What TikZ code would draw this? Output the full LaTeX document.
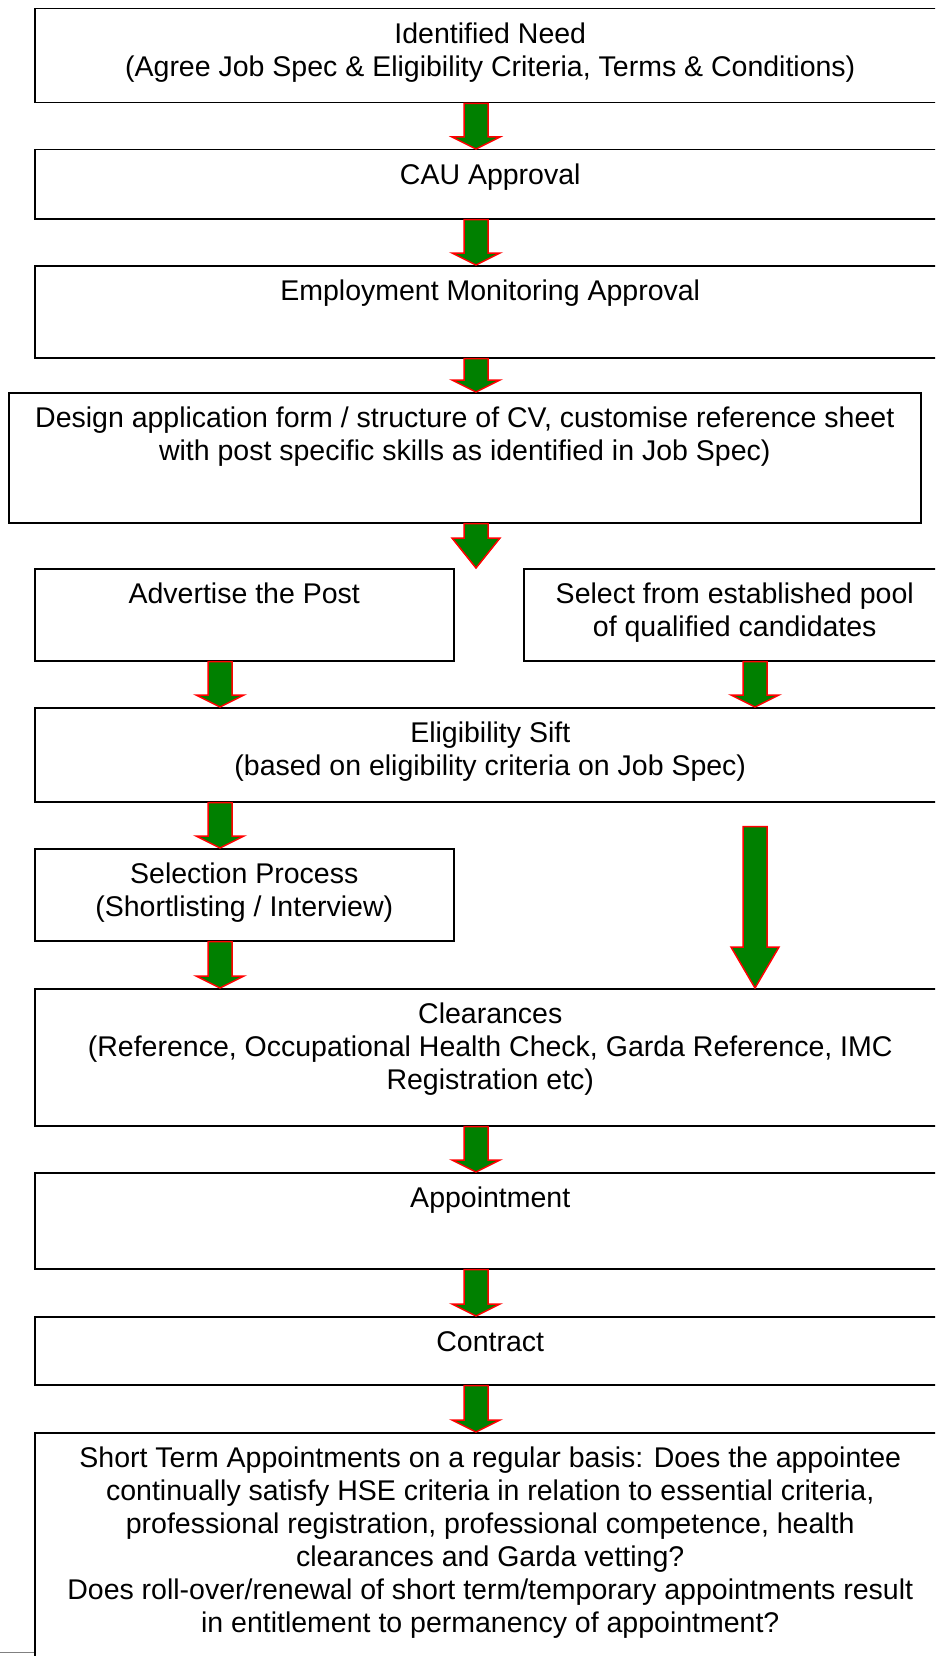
\documentclass[tikz,border=0pt]{standalone}
\usepackage{fontspec}
\setmainfont{Liberation Sans}
\usetikzlibrary{calc}

\definecolor{flowgreen}{RGB}{0,128,0}
\definecolor{flowred}{RGB}{255,0,0}

\tikzset{
  box/.style={draw, line width=1.5pt, anchor=north west, inner sep=0pt,
    minimum width=911pt, minimum height=#1},
  half/.style={box=#1, minimum width=419pt},
  caption/.style={anchor=north, align=center, inner sep=0pt, yshift=-15pt,
    font=\fontsize{28.5}{33}\selectfont},
  flow/.style={fill=flowgreen, draw=flowred, line width=1.5pt},
}

% block arrow: [head length] {from} {to}
\newcommand\blockarrow[3][12]{%
  \draw [flow] let \p1=(#2), \p2=(#3) in
    (\x1-12pt,\y1) -- (\x1+12pt,\y1) -- (\x1+12pt,\y2+#1pt) -- (\x1+24pt,\y2+#1pt)
    -- (\x1,\y2) -- (\x1-24pt,\y2+#1pt) -- (\x1-12pt,\y2+#1pt) -- cycle;}

\begin{document}
\begin{tikzpicture}[x=1pt,y=-1pt]
  \useasboundingbox (0,0) rectangle (935,1656);
  \clip (0,0) rectangle (935,1656);

  \coordinate (spine)  at (476,0);
  \coordinate (lspine) at (220,0);
  \coordinate (rspine) at (755,0);

  \node (need)      [box=94pt]  at (34,8)    {};
  \node (cau)       [box=69pt]  at (34,149)  {};
  \node (monitor)   [box=92pt]  at (34,265)  {};
  \node (design)    [box=130pt, minimum width=912pt] at (8,392) {};
  \node (advertise) [half=92pt] at (34,568)  {};
  \node (pool)      [box=92pt, minimum width=422pt] at (523,568) {};
  \node (sift)      [box=94pt]  at (34,707)  {};
  \node (selection) [half=92pt] at (34,848)  {};
  \node (clear)     [box=137pt] at (34,988)  {};
  \node (appoint)   [box=96pt]  at (34,1172) {};
  \node (contract)  [box=68pt]  at (34,1316) {};
  \node (review)    [box=260pt] at (34,1432) {};

  \node (need-t)      [caption] at (need.north)      {Identified Need\\(Agree Job Spec \& Eligibility Criteria, Terms \& Conditions)};
  \node (cau-t)       [caption] at (cau.north)       {CAU Approval};
  \node (monitor-t)   [caption] at (monitor.north)   {Employment Monitoring Approval};
  \node (design-t)    [caption] at (design.north)    {Design application form / structure of CV, customise reference sheet\\with post specific skills as identified in Job Spec)};
  \node (advertise-t) [caption] at (advertise.north) {Advertise the Post};
  \node (pool-t)      [caption] at (pool.north)      {Select from established pool\\of qualified candidates};
  \node (sift-t)      [caption] at (sift.north)      {Eligibility Sift\\(based on eligibility criteria on Job Spec)};
  \node (selection-t) [caption] at (selection.north) {Selection Process\\(Shortlisting / Interview)};
  \node (clear-t)     [caption] at (clear.north)     {Clearances\\(Reference, Occupational Health Check, Garda Reference, IMC\\Registration etc)};
  \node (appoint-t)   [caption] at (appoint.north)   {Appointment};
  \node (contract-t)  [caption] at (contract.north)  {Contract};
  \node (review-t)    [caption] at (review.north)    {Short Term Appointments on a regular basis: Does the appointee\\continually satisfy HSE criteria in relation to essential criteria,\\professional registration, professional competence, health\\clearances and Garda vetting?\\Does roll-over/renewal of short term/temporary appointments result\\in entitlement to permanency of appointment?};

  \blockarrow{need.south -| spine}{cau.north -| spine}
  \blockarrow{cau.south -| spine}{monitor.north -| spine}
  \blockarrow{monitor.south -| spine}{design.north -| spine}
  \blockarrow[30]{design.south -| spine}{advertise.north -| spine}
  \blockarrow{advertise.south -| lspine}{sift.north -| lspine}
  \blockarrow{pool.south -| rspine}{sift.north -| rspine}
  \blockarrow{sift.south -| lspine}{selection.north -| lspine}
  \blockarrow[41]{$(sift.south -| rspine)+(0,24)$}{clear.north -| rspine}
  \blockarrow{selection.south -| lspine}{clear.north -| lspine}
  \blockarrow{clear.south -| spine}{appoint.north -| spine}
  \blockarrow{appoint.south -| spine}{contract.north -| spine}
  \blockarrow{contract.south -| spine}{review.north -| spine}

  \draw [gray, line width=1pt] (0,1652) -- (review.west |- 0,1652);
\end{tikzpicture}
\end{document}
